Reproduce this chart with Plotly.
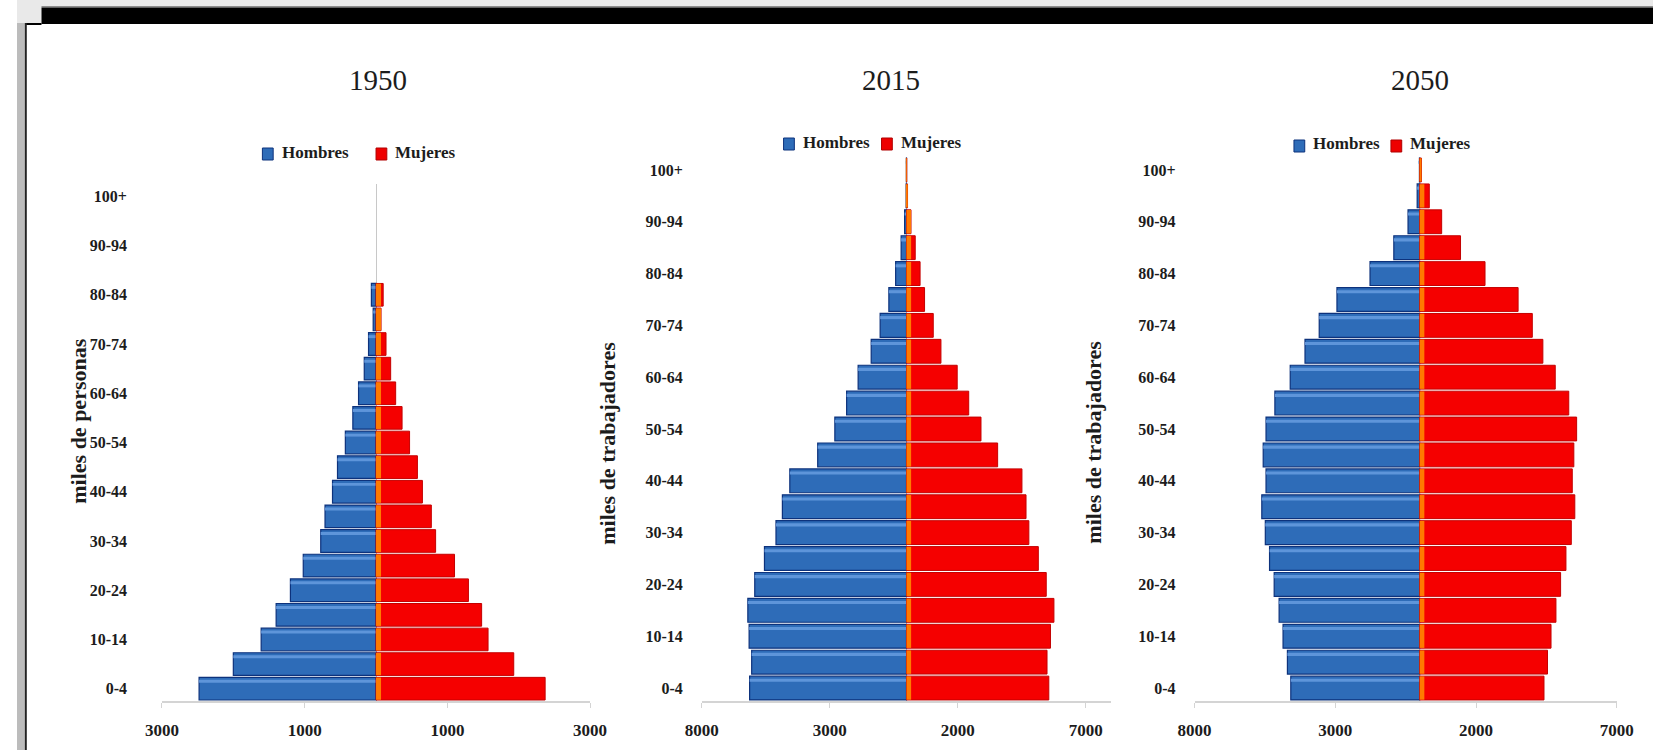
import plotly.graph_objects as go

W, H = 1670, 750
FONT = "Liberation Serif"

# ---------------- data ----------------
age_groups = ["0-4", "5-9", "10-14", "15-19", "20-24", "25-29", "30-34", "35-39",
              "40-44", "45-49", "50-54", "55-59", "60-64", "65-69", "70-74",
              "75-79", "80-84", "85-89", "90-94", "95-99", "100+"]
age_tick_labels = ["0-4", "10-14", "20-24", "30-34", "40-44", "50-54",
                   "60-64", "70-74", "80-84", "90-94", "100+"]

years = ["1950", "2015", "2050"]
series_names = ["Hombres", "Mujeres"]

hombres_1950 = [2480, 2000, 1610, 1400, 1200, 1020, 775, 715, 610, 540, 430,
                325, 245, 165, 105, 40, 65, 0, 0, 0, 0]
mujeres_1950 = [2370, 1930, 1570, 1480, 1295, 1100, 835, 775, 650, 580, 470,
                365, 275, 205, 140, 70, 100, 0, 0, 0, 0]

hombres_2015 = [6130, 6050, 6150, 6200, 5930, 5550, 5100, 4850, 4560, 3470, 2800,
                2340, 1890, 1380, 1030, 690, 425, 210, 75, 15, 5]
mujeres_2015 = [5560, 5490, 5625, 5760, 5460, 5150, 4780, 4670, 4510, 3560, 2910,
                2430, 1980, 1345, 1045, 705, 530, 340, 175, 40, 10]

hombres_2050 = [4580, 4700, 4855, 4995, 5170, 5335, 5485, 5610, 5460, 5560, 5460,
                5145, 4600, 4075, 3570, 2940, 1765, 920, 415, 90, 10]
mujeres_2050 = [4415, 4540, 4665, 4840, 5005, 5195, 5385, 5510, 5420, 5475, 5575,
                5295, 4815, 4375, 4000, 3495, 2320, 1450, 780, 340, 60]

x_tickvals_1950 = [-3000, -1000, 1000, 3000]
x_ticktext_1950 = ["3000", "1000", "1000", "3000"]
x_tickvals_2015 = [-8000, -3000, 2000, 7000]
x_ticktext_2015 = ["8000", "3000", "2000", "7000"]
x_tickvals_2050 = [-8000, -3000, 2000, 7000]
x_ticktext_2050 = ["8000", "3000", "2000", "7000"]

x_range_1950 = [-3000, 3000]
x_range_2015 = [-8000, 8000]
x_range_2050 = [-8000, 7000]

y_titles = ["miles de personas", "miles de trabajadores", "miles de trabajadores"]

# ---------------- styling / layout (pixels) ----------------
def fx(px):
    return px / W

def fy(py):
    return 1 - py / H

panels = [
    dict(year="1950", men=hombres_1950, women=mujeres_1950, xr=x_range_1950,
         tv=x_tickvals_1950, tt=x_ticktext_1950, x0=148, x1=585, y0=184, y1=701,
         stripe=70, standoff=34, title_x=368, ytitle_x=62, ytitle_y=421,
         leg_sq=[256, 372], leg_y=153),
    dict(year="2015", men=hombres_2015, women=mujeres_2015, xr=x_range_2015,
         tv=x_tickvals_2015, tt=x_ticktext_2015, x0=699, x1=1117, y0=157, y1=701,
         stripe=180, standoff=18, title_x=892, ytitle_x=602, ytitle_y=443,
         leg_sq=[788, 888], leg_y=143),
    dict(year="2050", men=hombres_2050, women=mujeres_2050, xr=x_range_2050,
         tv=x_tickvals_2050, tt=x_ticktext_2050, x0=1202, x1=1633, y0=157, y1=701,
         stripe=165, standoff=18, title_x=1432, ytitle_x=1098, ytitle_y=442,
         leg_sq=[1309, 1408], leg_y=145),
]

BLUE = "#2e6cb8"
BLUE_EDGE = "#0d327c"
BLUE_LIGHT = "#5e95da"
RED = "#f50000"
RED_EDGE = "#c40000"
ORANGE = "#ff7a00"
TEXT = "#1c1c1c"
SWATCH = [(BLUE, BLUE_EDGE), ("#ee0000", "#b00000")]


def nz(values):
    return [v if v > 0 else None for v in values]


fig = go.Figure()
annotations = []
shapes = []
layout_axes = {}

for i, p in enumerate(panels):
    n = "" if i == 0 else str(i + 1)
    xa, ya = "x" + n, "y" + n
    neg_men = [-v if v > 0 else None for v in p["men"]]
    women = nz(p["women"])
    stripe = [min(v, p["stripe"]) if v else None for v in women]

    fig.add_trace(go.Bar(y=age_groups, x=neg_men, orientation="h", name=series_names[0],
                         marker=dict(color=BLUE, line=dict(color=BLUE_EDGE, width=1.2)),
                         xaxis=xa, yaxis=ya, showlegend=False))
    fig.add_trace(go.Bar(y=age_groups, x=neg_men, orientation="h", name=series_names[0],
                         marker=dict(color=BLUE_LIGHT, line=dict(width=0)),
                         width=0.12, offset=0.24, xaxis=xa, yaxis=ya,
                         showlegend=False, hoverinfo="skip"))
    fig.add_trace(go.Bar(y=age_groups, x=women, orientation="h", name=series_names[1],
                         marker=dict(color=RED, line=dict(color=RED_EDGE, width=1)),
                         xaxis=xa, yaxis=ya, showlegend=False))
    fig.add_trace(go.Bar(y=age_groups, x=stripe, orientation="h", name=series_names[1],
                         marker=dict(color=ORANGE, line=dict(width=0)),
                         width=0.9, xaxis=xa, yaxis=ya,
                         showlegend=False, hoverinfo="skip"))

    layout_axes["xaxis" + n] = dict(
        domain=[fx(p["x0"]), fx(p["x1"])], range=p["xr"], anchor=ya,
        tickvals=p["tv"], ticktext=p["tt"], showgrid=False,
        zeroline=True, zerolinecolor="#c8c8c8", zerolinewidth=1,
        showline=True, linecolor="#d4d4d4", linewidth=1.5,
        ticks="outside", ticklen=5, tickcolor="#d4d4d4",
        ticklabelstandoff=8,
        tickfont=dict(family=FONT, size=17, color=TEXT, weight="bold"),
        fixedrange=True)
    layout_axes["yaxis" + n] = dict(
        domain=[fy(p["y1"]), fy(p["y0"])], anchor=xa, type="category",
        categoryorder="array", categoryarray=age_groups,
        range=[-0.5, len(age_groups) - 0.5],
        tickvals=age_tick_labels, ticktext=age_tick_labels,
        showgrid=False, zeroline=False, showline=False, ticks="",
        ticklabelstandoff=p["standoff"],
        tickfont=dict(family=FONT, size=16, color=TEXT, weight="bold"),
        fixedrange=True)

    # legend (swatch + label) for this panel
    for k, name in enumerate(series_names):
        cx = p["leg_sq"][k]
        fill, edge = SWATCH[k]
        shapes.append(dict(type="rect", xref="paper", yref="paper",
                           x0=fx(cx - 5.5), x1=fx(cx + 5.5),
                           y0=fy(p["leg_y"] + 7), y1=fy(p["leg_y"] - 5),
                           fillcolor=fill, line=dict(color=edge, width=1)))
        annotations.append(dict(text=name, x=fx(cx + 12), y=fy(p["leg_y"] - 1),
                                xref="paper", yref="paper", showarrow=False,
                                xanchor="left", yanchor="middle",
                                font=dict(family=FONT, size=17, color=TEXT, weight="bold")))

    annotations.append(dict(text=p["year"], x=fx(p["title_x"]), y=fy(80),
                            xref="paper", yref="paper", showarrow=False,
                            xanchor="center", yanchor="middle",
                            font=dict(family=FONT, size=29, color=TEXT)))
    annotations.append(dict(text=y_titles[i], x=fx(p["ytitle_x"]), y=fy(p["ytitle_y"]),
                            xref="paper", yref="paper", showarrow=False,
                            textangle=-90, xanchor="center", yanchor="middle",
                            font=dict(family=FONT, size=22, color=TEXT, weight="bold")))

# frame decoration (screenshot border)
shapes += [
    dict(type="rect", xref="paper", yref="paper", x0=0, x1=1, y0=fy(7), y1=1,
         fillcolor="#e9e9e9", line_width=0, layer="below"),
    dict(type="rect", xref="paper", yref="paper", x0=0, x1=fx(25), y0=fy(23), y1=1,
         fillcolor="#e9e9e9", line_width=0, layer="below"),
    dict(type="rect", xref="paper", yref="paper", x0=fx(25), x1=1, y0=fy(7.5), y1=fy(6),
         fillcolor="#8c8c8c", line_width=0, layer="below"),
    dict(type="rect", xref="paper", yref="paper", x0=fx(25), x1=1, y0=fy(24), y1=fy(7.5),
         fillcolor="#000000", line_width=0, layer="below"),
    dict(type="rect", xref="paper", yref="paper", x0=fx(8), x1=fx(25), y0=fy(25), y1=fy(23),
         fillcolor="#000000", line_width=0, layer="below"),
    dict(type="rect", xref="paper", yref="paper", x0=0, x1=fx(8), y0=0, y1=fy(23),
         fillcolor="#bcbcbc", line_width=0, layer="below"),
    dict(type="rect", xref="paper", yref="paper", x0=fx(8), x1=fx(10), y0=0, y1=fy(23),
         fillcolor="#222222", line_width=0, layer="below"),
]

fig.update_layout(
    width=W, height=H, margin=dict(l=0, r=0, t=0, b=0),
    paper_bgcolor="white", plot_bgcolor="rgba(0,0,0,0)",
    barmode="overlay", bargap=0.08, showlegend=False,
    annotations=annotations, shapes=shapes,
    **layout_axes)

fig.write_html("out.html", config={"displayModeBar": False})
